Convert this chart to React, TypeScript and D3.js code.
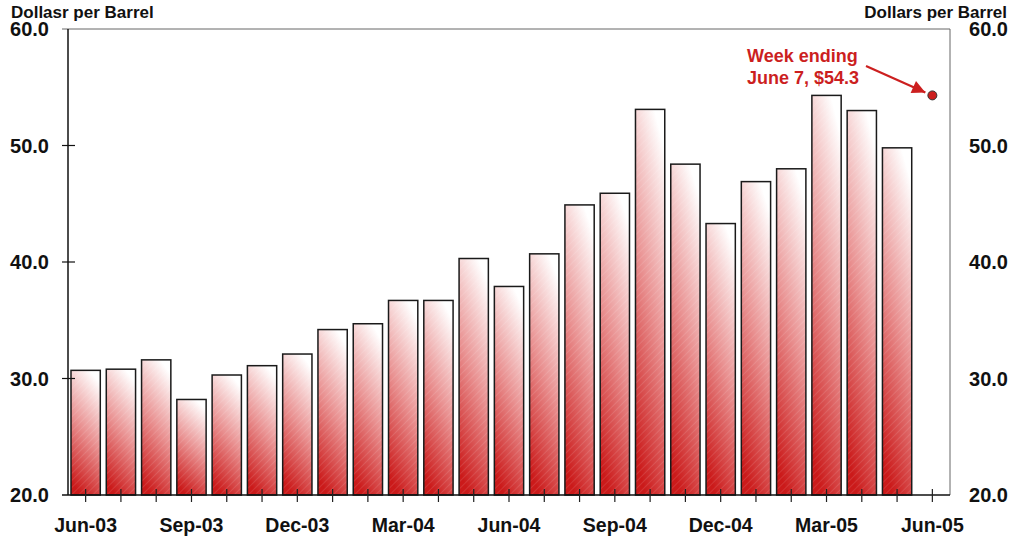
import React from "react";
import * as d3 from "d3";

const months = [
  "Jun-03","Jul-03","Aug-03","Sep-03","Oct-03","Nov-03","Dec-03",
  "Jan-04","Feb-04","Mar-04","Apr-04","May-04","Jun-04","Jul-04","Aug-04","Sep-04","Oct-04","Nov-04","Dec-04",
  "Jan-05","Feb-05","Mar-05","Apr-05","May-05","Jun-05",
];
const prices = [
  30.7, 30.8, 31.6, 28.2, 30.3, 31.1, 32.1, 34.2, 34.7, 36.7, 36.7, 40.3,
  37.9, 40.7, 44.9, 45.9, 53.1, 48.4, 43.3, 46.9, 48.0, 54.3, 53.0, 49.8,
];
const weeklyPoint = { month: "Jun-05", value: 54.3 };
const yTicks = [20, 30, 40, 50, 60];
const xLabelMonths = ["Jun-03","Sep-03","Dec-03","Mar-04","Jun-04","Sep-04","Dec-04","Mar-05","Jun-05"];
const leftTitle = "Dollasr per Barrel";
const rightTitle = "Dollars per Barrel";
const noteLines = ["Week ending", "June 7, $54.3"];

export default function App() {
  const W = 1013, H = 540;
  const left = 68, right = 950, top = 29, bottom = 495;
  const x = d3.scaleBand<string>().domain(months).range([left, right]).paddingInner(0.17).paddingOuter(0.085);
  const y = d3.scaleLinear().domain([20, 60]).range([bottom, top]);
  const center = (m: string) => (x(m) as number) + x.bandwidth() / 2;
  const font = "'Liberation Sans', Arial, sans-serif";
  const red = "#cc1f1f";
  const px = center(weeklyPoint.month);
  const py = y(weeklyPoint.value);

  return (
    <svg width={W} height={H} style={{ position: "absolute", left: 0, top: 0, background: "#fff" }} fontFamily={font}>
      <defs>
        <linearGradient id="barGrad" x1="0.65" y1="0" x2="0.35" y2="1">
          <stop offset="0" stopColor="#ffffff" />
          <stop offset="0.5" stopColor="#e99090" />
          <stop offset="1" stopColor="#cb1a1a" />
        </linearGradient>
        <pattern id="hatch" width="5" height="5" patternUnits="userSpaceOnUse" patternTransform="rotate(45)">
          <line x1="0" y1="0" x2="0" y2="5" stroke="#ffffff" strokeOpacity="0.22" strokeWidth="1" />
        </pattern>
        <marker id="arrowHead" viewBox="0 0 10 10" refX="10" refY="5" markerWidth="8" markerHeight="6" orient="auto" markerUnits="strokeWidth">
          <path d="M0,0 L10,5 L0,10 z" fill={red} />
        </marker>
      </defs>

      {/* frame */}
      <line x1={left - 6} x2={right} y1={top} y2={top} stroke="#666" strokeWidth={1} />
      <line x1={right} x2={right} y1={top} y2={bottom} stroke="#666" strokeWidth={1} />

      {/* bars */}
      {prices.map((v, i) => {
        const m = months[i];
        const bx = x(m) as number;
        const by = y(v);
        const bh = bottom - by;
        return (
          <g key={m}>
            <rect x={bx} y={by} width={x.bandwidth()} height={bh} fill="url(#barGrad)" />
            <rect x={bx} y={by} width={x.bandwidth()} height={bh} fill="url(#hatch)" stroke="#1a1a1a" strokeWidth={1.5} />
          </g>
        );
      })}

      {/* left axis */}
      <line x1={left} x2={left} y1={top} y2={bottom} stroke="#111" strokeWidth={1.5} />
      {yTicks.map((t) => (
        <g key={t}>
          {t > 20 && t < 60 && <line x1={left - 6} x2={left + 7} y1={y(t)} y2={y(t)} stroke="#111" strokeWidth={1.2} />}
          <text x={49} y={y(t) + 7} textAnchor="end" fontSize={20} fontWeight="bold" fill="#111">{t.toFixed(1)}</text>
          <text x={1008} y={y(t) + 7} textAnchor="end" fontSize={20} fontWeight="bold" fill="#111">{t.toFixed(1)}</text>
        </g>
      ))}

      {/* bottom axis */}
      <line x1={left - 6} x2={right} y1={bottom} y2={bottom} stroke="#111" strokeWidth={1.5} />
      {months.map((m) => (
        <line key={m} x1={center(m)} x2={center(m)} y1={bottom - 6} y2={bottom + 7} stroke="#222" strokeWidth={1.2} />
      ))}
      {xLabelMonths.map((m) => (
        <text key={m} x={center(m)} y={532} textAnchor="middle" fontSize={19.5} fontWeight="bold" fill="#111">{m}</text>
      ))}

      {/* titles */}
      <text x={11} y={18} fontSize={17} fontWeight="bold" fill="#111">{leftTitle}</text>
      <text x={1007} y={18} textAnchor="end" fontSize={17} fontWeight="bold" fill="#111">{rightTitle}</text>

      {/* annotation */}
      {noteLines.map((s, i) => (
        <text key={s} x={747} y={62 + i * 22} fontSize={18} fontWeight="bold" fill={red}>{s}</text>
      ))}
      <line x1={866} y1={66} x2={px - 7} y2={py - 3} stroke={red} strokeWidth={2.2} markerEnd="url(#arrowHead)" />
      <circle cx={px} cy={py} r={4.5} fill={red} stroke="#333" strokeWidth={1} />
    </svg>
  );
}
